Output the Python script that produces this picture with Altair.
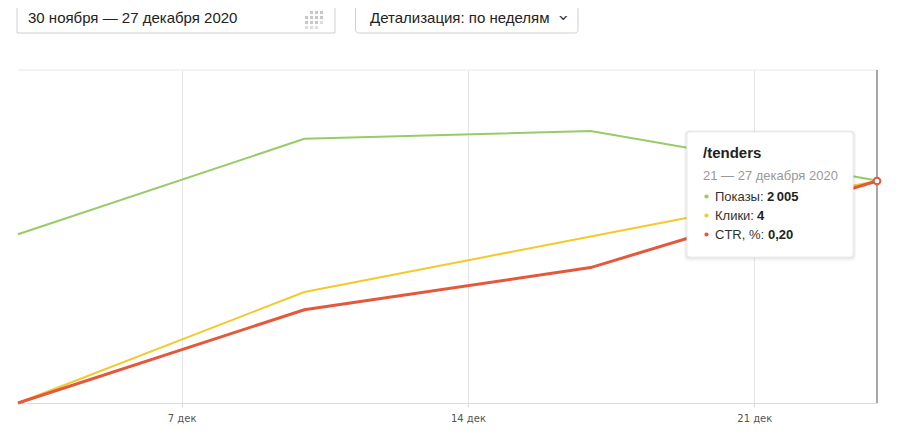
import altair as alt
import pandas as pd

# ---- data ----
weeks = ["2020-12-03T00:00:00", "2020-12-10T00:00:00", "2020-12-17T00:00:00", "2020-12-24T00:00:00"]
shows = [1520, 2380, 2450, 2005]
clicks = [0, 2, 3, 4]
ctr = [0.0, 0.084, 0.122, 0.20]
tick_days = [7, 14, 21]
period_text = "30 ноября — 27 декабря 2020"
detail_text = "Детализация: по неделям"
tip_title = "/tenders"
tip_period = "21 — 27 декабря 2020"
series_names = ["Показы:", "Клики:", "CTR, %:"]

GREEN = "#98cb66"
YELLOW = "#f3c92c"
RED = "#e4583b"
UI_FONT = "Liberation Sans"

df = pd.DataFrame({"date": weeks, "shows": shows, "clicks": clicks, "ctr": ctr})
one = pd.DataFrame({"a": [0]})

x_enc = alt.X(
    "date:T",
    title=None,
    scale=alt.Scale(domain=[alt.DateTime(year=2020, month=12, date=3),
                            alt.DateTime(year=2020, month=12, date=24)]),
    axis=alt.Axis(
        values=[alt.DateTime(year=2020, month=12, date=d) for d in tick_days],
        labelExpr="date(datum.value) + ' дек'",
        grid=True, gridColor="#e6e6e6", gridWidth=1,
        domainColor="#dcdcdc", tickColor="#dcdcdc", tickSize=4,
        labelColor="#555555", labelFont="DejaVu Sans", labelFontSize=10,
        labelPadding=6,
    ),
)

base = alt.Chart(df)
green_line = base.mark_line(color=GREEN, strokeWidth=2).encode(
    x=x_enc, y=alt.Y("shows:Q", scale=alt.Scale(domain=[0, 3000]), axis=None))
yellow_line = base.mark_line(color=YELLOW, strokeWidth=2).encode(
    x=x_enc, y=alt.Y("clicks:Q", scale=alt.Scale(domain=[0, 6]), axis=None))
red_line = base.mark_line(color=RED, strokeWidth=3).encode(
    x=x_enc, y=alt.Y("ctr:Q", scale=alt.Scale(domain=[0, 0.3]), axis=None))

last = df.tail(1)
cursor = alt.Chart(last).mark_rule(color="#8a8a8a", strokeWidth=1.5).encode(
    x=x_enc, y=alt.value(0), y2=alt.value(333))
end_point = alt.Chart(last).mark_point(
    shape="circle", filled=True, fill="white", stroke=RED, strokeWidth=2, size=45, opacity=1
).encode(x=x_enc, y=alt.Y("ctr:Q", scale=alt.Scale(domain=[0, 0.3]), axis=None))

top_border = alt.Chart(one).mark_rule(color="#e6e6e6").encode(
    x=alt.value(0), x2=alt.value(859), y=alt.value(0))

# ---- top UI controls ----
box1 = alt.Chart(one).mark_rect(fill="white", stroke="#cfcfcf", strokeWidth=1).encode(
    x=alt.value(-1), x2=alt.value(317), y=alt.value(-67), y2=alt.value(-37))
text1 = alt.Chart(one).mark_text(align="left", baseline="alphabetic", font=UI_FONT,
                                 fontSize=15, color="#222222").encode(
    x=alt.value(10), y=alt.value(-47), text=alt.value(period_text))
cal_df = pd.DataFrame({
    "px": [293.5, 298.5, 303.5, 288.5, 293.5, 298.5, 303.5, 288.5, 293.5, 298.5, 303.5, 288.5, 293.5, 298.5],
    "py": [-57.5, -57.5, -57.5, -52.5, -52.5, -52.5, -52.5, -47.5, -47.5, -47.5, -47.5, -42.5, -42.5, -42.5],
    "op": [1, 1, 1, 1, 1, 1, 1, 1, 1, 1, 0.6, 0.6, 0.6, 0.6],
})
cal = alt.Chart(cal_df).mark_square(color="#c8c8c8", size=10, filled=True).encode(
    x=alt.X("px:Q", scale=None), y=alt.Y("py:Q", scale=None),
    opacity=alt.Opacity("op:Q", scale=None, legend=None))

box2 = alt.Chart(one).mark_rect(fill="white", stroke="#cfcfcf", strokeWidth=1, cornerRadius=3).encode(
    x=alt.value(337.5), x2=alt.value(560), y=alt.value(-67.5), y2=alt.value(-37))
text2 = alt.Chart(one).mark_text(align="left", baseline="alphabetic", font=UI_FONT,
                                 fontSize=15, color="#222222").encode(
    x=alt.value(352), y=alt.value(-47), text=alt.value(detail_text))
chev = alt.Chart(one).mark_text(align="center", baseline="middle", font="DejaVu Sans",
                                fontSize=17, color="#333333", angle=90).encode(
    x=alt.value(545), y=alt.value(-52), text=alt.value("›"))

# ---- tooltip ----
shadow1 = alt.Chart(one).mark_rect(fill="black", opacity=0.04, cornerRadius=5).encode(
    x=alt.value(666), x2=alt.value(838), y=alt.value(60), y2=alt.value(191))
shadow2 = alt.Chart(one).mark_rect(fill="black", opacity=0.05, cornerRadius=4).encode(
    x=alt.value(667.5), x2=alt.value(836.5), y=alt.value(61), y2=alt.value(189))
tip_box = alt.Chart(one).mark_rect(fill="white", stroke="#ececec", cornerRadius=3).encode(
    x=alt.value(669), x2=alt.value(835), y=alt.value(62), y2=alt.value(187))
tip_t = alt.Chart(one).mark_text(align="left", baseline="alphabetic", font=UI_FONT,
                                 fontSize=15, fontWeight="bold", color="#222222").encode(
    x=alt.value(685), y=alt.value(88), text=alt.value(tip_title))
tip_p = alt.Chart(one).mark_text(align="left", baseline="alphabetic", font=UI_FONT,
                                 fontSize=13, color="#999999").encode(
    x=alt.value(685), y=alt.value(110), text=alt.value(tip_period))

vals = [f"{shows[-1]:,}".replace(",", "\u2009"), f"{clicks[-1]}", f"{ctr[-1]:.2f}".replace(".", ",")]
rows = pd.DataFrame({
    "label": series_names,
    "value": vals,
    "color": [GREEN, YELLOW, RED],
    "ry": [131, 150, 169],
    "vx": [749, 739, 750],
})
dots = alt.Chart(rows).mark_circle(size=18, opacity=1).encode(
    x=alt.value(688.5), y=alt.Y("ry:Q", scale=None),
    color=alt.Color("color:N", scale=None, legend=None))
labels = alt.Chart(rows).mark_text(align="left", baseline="alphabetic", font=UI_FONT,
                                   fontSize=13, color="#333333").encode(
    x=alt.value(697), y=alt.Y("ry:Q", scale=None), text="label:N")
values = alt.Chart(rows).mark_text(align="left", baseline="alphabetic", font=UI_FONT,
                                   fontSize=13, fontWeight="bold", color="#222222").encode(
    x=alt.X("vx:Q", scale=None), y=alt.Y("ry:Q", scale=None), text="value:N")

# shift row dots up to text middle
dots = dots.transform_calculate(ry="datum.ry - 4.5")

chart = alt.layer(
    top_border, green_line, yellow_line, red_line, cursor, end_point,
    box1, text1, cal, box2, text2, chev,
    shadow1, shadow2, tip_box, tip_t, tip_p, dots, labels, values,
).resolve_scale(y="independent").properties(
    width=859, height=333,
    autosize=alt.AutoSizeParams(type="none"),
    padding={"left": 10, "top": 62, "right": 19, "bottom": 22},
).configure_view(stroke=None)

chart.save("out.html", embed_options={"renderer": "svg", "actions": False})
